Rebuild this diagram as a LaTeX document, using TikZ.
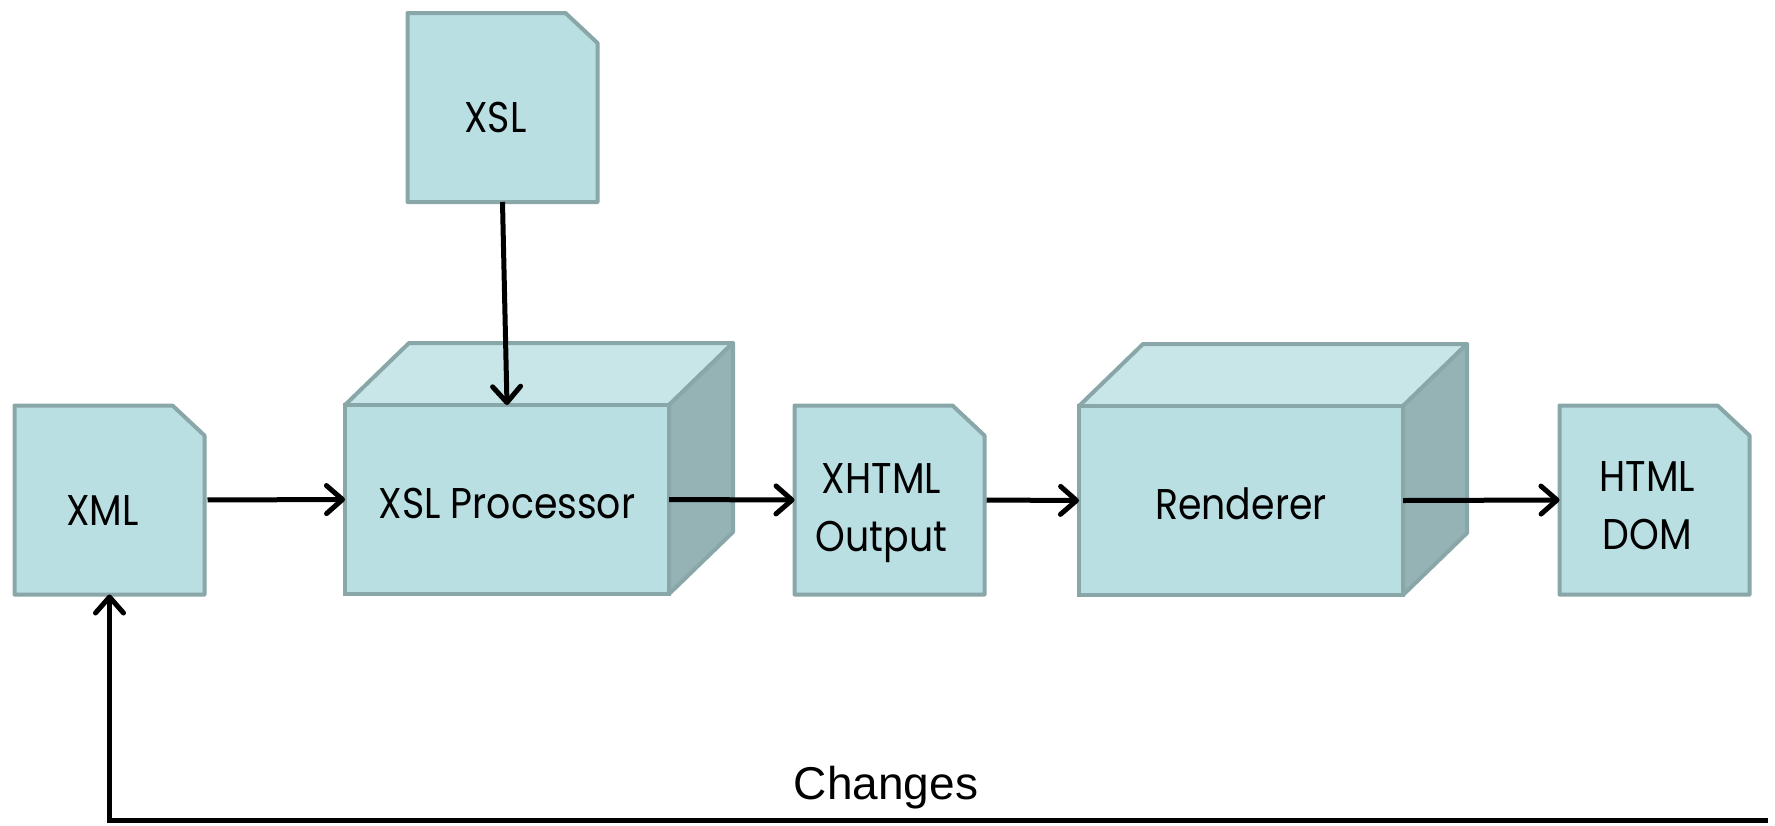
\documentclass[tikz,border=0pt]{standalone}
\usepackage{fontspec}
\setmainfont[FakeStretch=0.88]{Poppins}
\newfontfamily\notefont{Liberation Sans}
\usetikzlibrary{arrows.meta,backgrounds}

\definecolor{frontfill}{RGB}{186,223,227}
\definecolor{topfill}{RGB}{200,230,232}
\definecolor{sidefill}{RGB}{149,178,180}
\definecolor{edge}{RGB}{137,166,168}

% move a label inside its box without changing the box size
\newcommand\tshift[3]{\raisebox{#2}[\height][\depth]{\hspace*{#1}#3\hspace*{-#1}}}

\tikzset{
  lbl/.style={font=\fontsize{43}{58}\selectfont},
  facestyle/.style={draw=edge, line width=4pt, line join=round},
  % page with a clipped top right corner, drawn behind its label
  docbox/.style={lbl, rectangle, minimum width=190pt, minimum height=189pt,
    inner sep=0pt, outer sep=0pt, align=center,
    append after command={\pgfextra{\let\doc=\tikzlastnode
      \begin{pgfonlayer}{background}
      \filldraw[facestyle, fill=frontfill]
        (\doc.south west) -- (\doc.north west) -- ([xshift=-32pt]\doc.north east)
        -- ([yshift=-30pt]\doc.north east) -- (\doc.south east) -- cycle;
      \end{pgfonlayer}}}},
  % box seen from the front, with its top and right faces
  cubebox/.style={lbl, rectangle, minimum width=324pt, minimum height=189pt,
    inner sep=0pt, outer sep=0pt, fill=frontfill, draw=edge, line width=4pt,
    append after command={\pgfextra{\let\front=\tikzlastnode
      \filldraw[facestyle, fill=topfill]
        (\front.north west) -- ++(64pt,62pt) -- ([shift={(64pt,62pt)}]\front.north east)
        -- (\front.north east) -- cycle;
      \filldraw[facestyle, fill=sidefill]
        (\front.north east) -- ++(64pt,62pt) -- ([shift={(64pt,62pt)}]\front.south east)
        -- (\front.south east) -- cycle;}}},
  arr/.style={line width=5pt, -{Straight Barb[length=16pt,width=28pt,round]}},
}

\begin{document}
\begin{tikzpicture}[x=1pt,y=-1pt]
\useasboundingbox (0,0) rectangle (1775,825);

% documents and processing stages
\node[docbox] (xsl)  at (502.5,107.5) {\tshift{-7pt}{-10pt}{XSL}};
\node[docbox] (xml)  at (109.5,500)   {\tshift{-7pt}{-11pt}{XML}};
\node[cubebox] (proc) at (507,499.5)  {\tshift{0pt}{-4pt}{XSL Processor}};
\node[docbox] (xhtml) at (889.5,500)  {\tshift{-8pt}{-11pt}{\begin{tabular}{@{}c@{}}XHTML\\Output\end{tabular}}};
\node[cubebox] (rend) at (1241,500.5) {\tshift{0pt}{-3pt}{Renderer}};
\node[docbox] (dom)  at (1654.5,500)  {\tshift{-7pt}{-9pt}{\begin{tabular}{@{}c@{}}HTML\\DOM\end{tabular}}};

% data flow
\draw[arr, shorten <=3pt] (xml.east) -- (proc.west);
\draw[arr] (xsl.south) -- (proc.north);
\draw[arr] (proc.east) -- (xhtml.west);
\draw[arr, shorten <=2pt] (xhtml.east) -- (rend.west);
\draw[arr] (rend.east) -- (dom.west);

% feedback loop
\coordinate (fbend) at (1768,820);
\draw[arr] (fbend) -| (xml.south);
\node[anchor=base, font=\notefont\fontsize{46}{55}\selectfont] (chg) at (886,799) {Changes};
\end{tikzpicture}
\end{document}
